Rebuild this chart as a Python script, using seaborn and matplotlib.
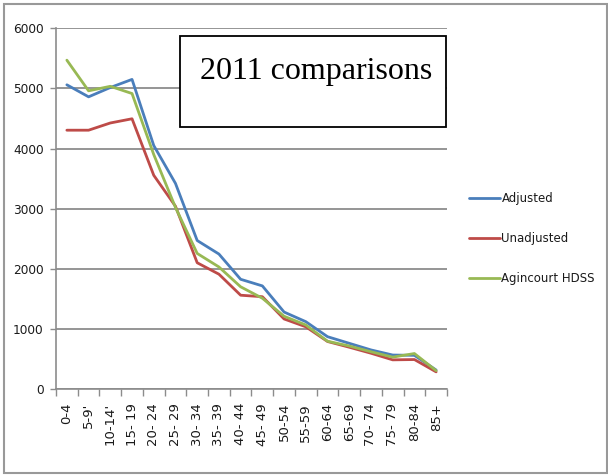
import numpy as np
import pandas as pd
import matplotlib
matplotlib.use("Agg")
import matplotlib.pyplot as plt
from matplotlib.patches import Rectangle
import seaborn as sns

# Age groups and population counts for the three 2011 series
age_groups = ["0-4", "5-9'", "10-14'", "15- 19", "20- 24", "25- 29", "30- 34",
              "35- 39", "40- 44", "45- 49", "50-54", "55-59", "60-64", "65-69",
              "70- 74", "75- 79", "80-84", "85+"]
adjusted = [5060, 4860, 5015, 5150, 4050, 3420, 2470, 2245, 1825, 1715,
            1280, 1120, 870, 760, 650, 565, 560, 315]
unadjusted = [4305, 4305, 4425, 4495, 3555, 3040, 2100, 1910, 1560, 1535,
              1165, 1035, 790, 695, 595, 485, 490, 285]
agincourt = [5470, 4960, 5035, 4915, 3900, 3020, 2255, 2030, 1700, 1510,
             1210, 1065, 795, 715, 620, 530, 590, 305]
series_names = ["Adjusted", "Unadjusted", "Agincourt HDSS"]
series_colors = ["#4A7EBB", "#BE4B48", "#98B954"]
y_ticks = [0, 1000, 2000, 3000, 4000, 5000, 6000]

df = pd.DataFrame({
    "pos": np.tile(np.arange(len(age_groups)), 3),
    "value": adjusted + unadjusted + agincourt,
    "series": np.repeat(series_names, len(age_groups)),
})

sns.set_style("white")
plt.rcParams["font.family"] = ["DejaVu Sans"]

W, H = 608, 475
fig = plt.figure(figsize=(W / 100, H / 100), dpi=100)
ax = fig.add_axes([56 / W, (H - 389) / H, (447 - 56) / W, (389 - 28.3) / H])

sns.lineplot(data=df, x="pos", y="value", hue="series", hue_order=series_names,
             palette=series_colors, linewidth=2.0, ax=ax, legend=False)

ax.set_xlim(-0.5, len(age_groups) - 0.5)
ax.set_ylim(0, 6000)
ax.set_yticks(y_ticks)
ax.set_yticklabels([str(v) for v in y_ticks], fontsize=8.7, color="#1a1a1a")
ax.set_xticks(np.arange(len(age_groups)))
ax.set_xticklabels(age_groups, rotation=90, fontsize=9.5, color="#1a1a1a",
                   va="top", ha="center")
ax.set_xticks(np.arange(-0.5, len(age_groups)), minor=True)
ax.tick_params(axis="x", which="major", length=0, pad=10)
ax.tick_params(axis="x", which="minor", length=5, width=1, color="#8c8c8c",
               direction="out", bottom=True)
ax.tick_params(axis="y", length=4, width=1, color="#8c8c8c", direction="out",
               pad=5, left=True)
ax.set_xlabel("")
ax.set_ylabel("")

ax.grid(axis="y", color="#8c8c8c", linewidth=1.3)
ax.set_axisbelow(True)
for side in ["top", "right"]:
    ax.spines[side].set_visible(False)
for side in ["left", "bottom"]:
    ax.spines[side].set_color("#8c8c8c")
    ax.spines[side].set_linewidth(1.2)

# Legend on the right
handles = [plt.Line2D([], [], color=c, linewidth=2.0) for c in series_colors]
fig.legend(handles, series_names, loc="center left",
           bbox_to_anchor=(469 / W, (H - 238.5) / H), frameon=False,
           fontsize=8.5, handlelength=2.6, handletextpad=0.15,
           labelspacing=2.3, borderpad=0, borderaxespad=0,
           labelcolor="#1a1a1a")

# Title box
fig.patches.append(Rectangle((180 / W, (H - 127) / H), (446 - 180) / W,
                             (127 - 36) / H, transform=fig.transFigure,
                             facecolor="white", edgecolor="black",
                             linewidth=1.3, zorder=5))
fig.text(200 / W, (H - 78.5) / H, "2011 comparisons",
         family="Liberation Serif", fontsize=23, va="baseline", ha="left",
         color="black", zorder=6)

# Outer frame
fig.patches.append(Rectangle((4 / W, 2 / H), 603 / W, 469 / H,
                             transform=fig.transFigure, fill=False,
                             edgecolor="#999999", linewidth=1.5, zorder=1))

fig.savefig("out.png", dpi=100)
